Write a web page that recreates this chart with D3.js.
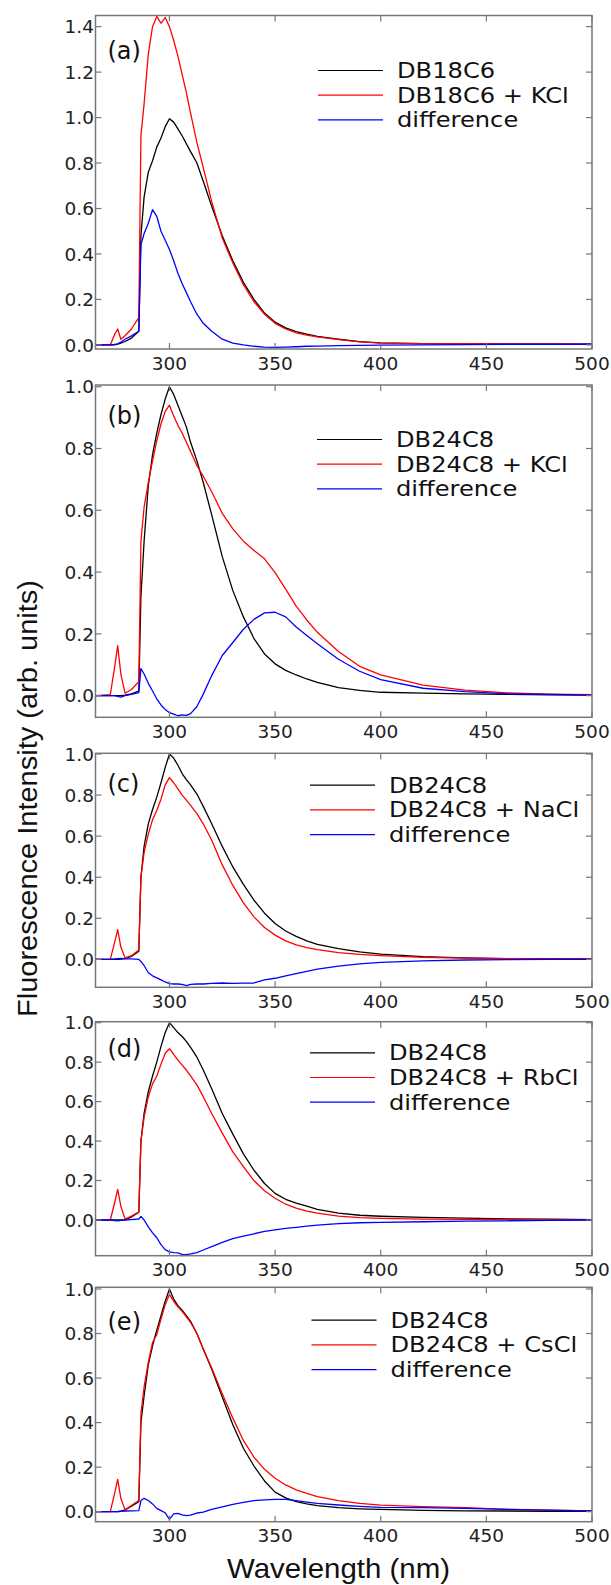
<!DOCTYPE html>
<html>
<head>
<meta charset="utf-8">
<script src="https://cdn.jsdelivr.net/npm/d3@7/dist/d3.min.js"></script>
<style>
  body { margin: 0; background: #fff; }
  svg { display: block; }
</style>
</head>
<body>
<div id="plot"></div>
<script>
const width = 611;
const height = 1585;

// wavelength grid shared by every trace (nm)
const wavelength = [265, 272, 274, 275.5, 277, 279, 282, 285.5, 286.5, 288, 290, 292, 294, 296, 298, 300, 302, 304, 306, 308, 310, 313, 316, 320, 325, 330, 335, 340, 345, 350, 355, 360, 365, 370, 380, 390, 400, 420, 440, 460, 480, 500];

const xTicks = [300, 350, 400, 450, 500];
const yTicksA = [0, 0.2, 0.4, 0.6, 0.8, 1.0, 1.2, 1.4];
const yTicks = [0, 0.2, 0.4, 0.6, 0.8, 1.0];

const panelLetters = ["(a)", "(b)", "(c)", "(d)", "(e)"];
const legendA = ["DB18C6", "DB18C6 + KCl", "difference"];
const legendB = ["DB24C8", "DB24C8 + KCl", "difference"];
const legendC = ["DB24C8", "DB24C8 + NaCl", "difference"];
const legendD = ["DB24C8", "DB24C8 + RbCl", "difference"];
const legendE = ["DB24C8", "DB24C8 + CsCl", "difference"];

// (a) DB18C6 / + KCl
const hostA = [0, 0, 0, 0.003, 0.008, 0.015, 0.03, 0.06, 0.48, 0.65, 0.76, 0.81, 0.87, 0.91, 0.96, 0.995, 0.98, 0.95, 0.92, 0.885, 0.85, 0.80, 0.72, 0.61, 0.48, 0.37, 0.275, 0.2, 0.14, 0.1, 0.075, 0.058, 0.047, 0.038, 0.025, 0.014, 0.009, 0.006, 0.005, 0.004, 0.004, 0.003];
const saltA = [0, 0, 0.045, 0.07, 0.025, 0.04, 0.07, 0.12, 0.92, 1.06, 1.28, 1.40, 1.445, 1.415, 1.44, 1.40, 1.34, 1.27, 1.19, 1.11, 1.02, 0.89, 0.78, 0.63, 0.47, 0.36, 0.265, 0.19, 0.135, 0.095, 0.07, 0.053, 0.043, 0.035, 0.023, 0.013, 0.008, 0.006, 0.005, 0.004, 0.004, 0.003];
const diffA = [0, 0, 0.002, 0.005, 0.012, 0.025, 0.04, 0.06, 0.44, 0.49, 0.535, 0.595, 0.565, 0.5, 0.46, 0.42, 0.37, 0.315, 0.27, 0.23, 0.19, 0.135, 0.095, 0.06, 0.025, 0.008, 0, -0.006, -0.01, -0.011, -0.01, -0.008, -0.006, -0.005, -0.003, -0.002, -0.001, 0, 0.001, 0.002, 0.002, 0.003];

// (b) DB24C8 / + KCl
const hostB = [0, 0, 0, 0, 0, 0.002, 0.006, 0.015, 0.32, 0.5, 0.68, 0.78, 0.85, 0.91, 0.96, 1.0, 0.975, 0.94, 0.905, 0.87, 0.82, 0.76, 0.69, 0.585, 0.45, 0.34, 0.255, 0.185, 0.135, 0.103, 0.082, 0.067, 0.054, 0.043, 0.026, 0.017, 0.011, 0.008, 0.006, 0.004, 0.003, 0.002];
const saltB = [0, 0.003, 0.09, 0.162, 0.07, 0.008, 0.02, 0.045, 0.5, 0.61, 0.69, 0.76, 0.825, 0.88, 0.92, 0.94, 0.905, 0.875, 0.85, 0.82, 0.79, 0.745, 0.71, 0.66, 0.59, 0.54, 0.5, 0.47, 0.443, 0.398, 0.345, 0.29, 0.245, 0.205, 0.143, 0.095, 0.067, 0.034, 0.018, 0.009, 0.005, 0.003];
const diffB = [0, 0, 0, -0.002, -0.005, 0, 0.004, 0.01, 0.088, 0.07, 0.04, 0.015, -0.01, -0.03, -0.045, -0.055, -0.06, -0.065, -0.062, -0.064, -0.058, -0.035, 0.005, 0.065, 0.13, 0.172, 0.215, 0.247, 0.268, 0.27, 0.255, 0.222, 0.195, 0.168, 0.118, 0.079, 0.052, 0.024, 0.013, 0.006, 0.004, 0.002];

// (c) DB24C8 / + NaCl
const hostC = [0, 0, 0, 0, 0.001, 0.004, 0.014, 0.04, 0.40, 0.55, 0.66, 0.73, 0.79, 0.86, 0.935, 1.0, 0.98, 0.945, 0.905, 0.875, 0.85, 0.805, 0.745, 0.66, 0.55, 0.45, 0.365, 0.288, 0.225, 0.175, 0.138, 0.112, 0.09, 0.073, 0.052, 0.036, 0.026, 0.013, 0.007, 0.004, 0.003, 0.002];
const saltC = [0, 0, 0.08, 0.145, 0.06, 0.007, 0.018, 0.045, 0.40, 0.52, 0.61, 0.68, 0.725, 0.78, 0.85, 0.885, 0.86, 0.83, 0.80, 0.775, 0.75, 0.71, 0.66, 0.58, 0.46, 0.36, 0.275, 0.207, 0.155, 0.118, 0.09, 0.071, 0.057, 0.047, 0.033, 0.024, 0.018, 0.01, 0.006, 0.004, 0.002, 0.001];
const diffC = [0, 0, 0.002, 0.004, 0.005, 0.002, 0.002, 0, -0.01, -0.03, -0.065, -0.08, -0.09, -0.1, -0.11, -0.118, -0.12, -0.12, -0.122, -0.128, -0.122, -0.12, -0.12, -0.117, -0.115, -0.117, -0.116, -0.115, -0.1, -0.092, -0.08, -0.069, -0.058, -0.047, -0.033, -0.022, -0.015, -0.007, -0.003, -0.001, 0, 0];

// (d) DB24C8 / + RbCl
const hostD = [0, 0, 0, 0, 0, 0.002, 0.015, 0.04, 0.40, 0.54, 0.65, 0.73, 0.80, 0.88, 0.95, 1.0, 0.975, 0.95, 0.93, 0.905, 0.875, 0.825, 0.76, 0.665, 0.54, 0.435, 0.335, 0.252, 0.185, 0.135, 0.105, 0.086, 0.07, 0.054, 0.035, 0.024, 0.019, 0.013, 0.009, 0.006, 0.004, 0.002];
const saltD = [0, 0, 0.085, 0.155, 0.07, 0.005, 0.02, 0.04, 0.40, 0.52, 0.625, 0.69, 0.73, 0.79, 0.845, 0.868, 0.84, 0.81, 0.785, 0.76, 0.73, 0.685, 0.625, 0.54, 0.44, 0.345, 0.27, 0.2, 0.148, 0.11, 0.08, 0.06, 0.045, 0.035, 0.02, 0.012, 0.008, 0.004, 0.003, 0.002, 0.001, 0.001];
const diffD = [0, 0, -0.003, -0.004, -0.002, 0, 0.002, 0.005, 0.018, 0, -0.035, -0.065, -0.09, -0.125, -0.15, -0.162, -0.165, -0.167, -0.174, -0.176, -0.172, -0.165, -0.152, -0.135, -0.113, -0.095, -0.082, -0.07, -0.058, -0.05, -0.043, -0.037, -0.031, -0.026, -0.018, -0.014, -0.012, -0.009, -0.006, -0.004, -0.002, 0];

// (e) DB24C8 / + CsCl
const hostE = [0, 0, 0, 0, 0.002, 0.008, 0.025, 0.045, 0.40, 0.52, 0.66, 0.745, 0.815, 0.88, 0.945, 1.0, 0.955, 0.925, 0.905, 0.88, 0.855, 0.80, 0.73, 0.64, 0.515, 0.39, 0.285, 0.205, 0.138, 0.088, 0.062, 0.045, 0.035, 0.027, 0.018, 0.013, 0.01, 0.006, 0.004, 0.003, 0.002, 0.002];
const saltE = [0, 0, 0.08, 0.145, 0.06, 0.008, 0.028, 0.05, 0.44, 0.56, 0.67, 0.76, 0.795, 0.865, 0.93, 0.975, 0.945, 0.92, 0.9, 0.875, 0.85, 0.80, 0.73, 0.645, 0.53, 0.42, 0.32, 0.245, 0.19, 0.15, 0.12, 0.098, 0.082, 0.068, 0.05, 0.037, 0.029, 0.023, 0.018, 0.01, 0.007, 0.004];
const diffE = [0, 0, 0, 0, 0.002, 0.003, 0.004, 0.005, 0.05, 0.06, 0.05, 0.035, 0.015, 0.005, -0.005, -0.035, -0.01, -0.008, -0.014, -0.018, -0.015, -0.006, -0.002, 0.01, 0.022, 0.033, 0.042, 0.05, 0.053, 0.055, 0.055, 0.05, 0.043, 0.037, 0.03, 0.024, 0.019, 0.018, 0.015, 0.01, 0.007, 0.004];

// layout of the five stacked panels (pixels)
const plotLeft = 95.5, plotRight = 592;
const panelTop = [15.5, 385, 753.3, 1021.7, 1287.3];
const panelBottom = [349, 717.3, 987.3, 1255.7, 1521.7];
const yDomains = [[-0.018, 1.449], [-0.07, 1.0055], [-0.136, 1.0034], [-0.181, 1.005], [-0.045, 1.0076]];
const legendX = [318, 317, 310, 310, 311.5];
const legendY = [70.5, 439.5, 785.2, 1052.8, 1320.2];
const letterY = [58.5, 423.5, 791.5, 1056.8, 1329.8];
const legendStep = 24.7;

const colors = ["#000000", "#ff0000", "#0000ff"];
const frameColor = "#777";

const panels = [
  { series: [hostA, saltA, diffA], legend: legendA, ticks: yTicksA },
  { series: [hostB, saltB, diffB], legend: legendB, ticks: yTicks },
  { series: [hostC, saltC, diffC], legend: legendC, ticks: yTicks },
  { series: [hostD, saltD, diffD], legend: legendD, ticks: yTicks },
  { series: [hostE, saltE, diffE], legend: legendE, ticks: yTicks }
];

const svg = d3.select("div#plot")
  .append("svg")
  .attr("width", width)
  .attr("height", height);

const x = d3.scaleLinear()
  .domain([265, 500])
  .range([plotLeft, plotRight]);

panels.forEach((p, i) => {
  const top = panelTop[i], bottom = panelBottom[i];
  const y = d3.scaleLinear()
    .domain(yDomains[i])
    .range([bottom, top]);

  const g = svg.append("g");

  svg.append("clipPath")
    .attr("id", "clip" + i)
    .append("rect")
    .attr("x", plotLeft)
    .attr("y", top)
    .attr("width", plotRight - plotLeft)
    .attr("height", bottom - top);

  const line = d3.line()
    .x((d, j) => x(wavelength[j]))
    .y(d => y(d));

  g.append("g")
    .attr("clip-path", `url(#clip${i})`)
    .selectAll("path")
    .data(p.series)
    .enter().append("path")
    .attr("d", line)
    .attr("fill", "none")
    .attr("stroke", (d, k) => colors[k])
    .attr("stroke-width", 1.3)
    .attr("stroke-linejoin", "round");

  // frame
  g.append("rect")
    .attr("x", plotLeft)
    .attr("y", top)
    .attr("width", plotRight - plotLeft)
    .attr("height", bottom - top)
    .attr("fill", "none")
    .attr("stroke", frameColor)
    .attr("stroke-width", 1.5);

  // inward ticks, all four sides
  const tickLen = 6;
  xTicks.forEach(t => {
    g.append("line")
      .attr("x1", x(t)).attr("x2", x(t))
      .attr("y1", bottom).attr("y2", bottom - tickLen)
      .attr("stroke", frameColor).attr("stroke-width", 1.2);
    g.append("line")
      .attr("x1", x(t)).attr("x2", x(t))
      .attr("y1", top).attr("y2", top + tickLen)
      .attr("stroke", frameColor).attr("stroke-width", 1.2);
  });
  p.ticks.forEach(t => {
    g.append("line")
      .attr("x1", plotLeft).attr("x2", plotLeft + tickLen)
      .attr("y1", y(t)).attr("y2", y(t))
      .attr("stroke", frameColor).attr("stroke-width", 1.2);
    g.append("line")
      .attr("x1", plotRight).attr("x2", plotRight - tickLen)
      .attr("y1", y(t)).attr("y2", y(t))
      .attr("stroke", frameColor).attr("stroke-width", 1.2);
  });

  g.selectAll(".xlab")
    .data(xTicks)
    .enter().append("text")
    .attr("x", d => x(d))
    .attr("y", bottom + 20.5)
    .attr("text-anchor", "middle")
    .style("font-family", "DejaVu Sans")
    .style("font-size", "18.5px")
    .style("fill", "#222")
    .text(d => d);

  g.selectAll(".ylab")
    .data(p.ticks)
    .enter().append("text")
    .attr("x", plotLeft - 1.5)
    .attr("y", d => y(d) + 6.7)
    .attr("text-anchor", "end")
    .style("font-family", "DejaVu Sans")
    .style("font-size", "18.5px")
    .style("fill", "#222")
    .text(d => d3.format(".1f")(d));

  g.append("text")
    .attr("x", 107.5)
    .attr("y", letterY[i])
    .style("font-family", "DejaVu Sans")
    .style("font-size", "24px")
    .style("fill", "#111")
    .text(panelLetters[i]);

  // legend
  const legend = g.selectAll(".legend")
    .data(p.legend)
    .enter().append("g")
    .attr("transform", (d, k) => `translate(${legendX[i]}, ${legendY[i] + k * legendStep})`);

  legend.append("line")
    .attr("x1", 0).attr("x2", 65)
    .attr("y1", 0).attr("y2", 0)
    .attr("stroke", (d, k) => colors[k])
    .attr("stroke-width", 1.2);

  legend.append("text")
    .attr("x", 79)
    .attr("y", 7.3)
    .style("font-family", "DejaVu Sans")
    .style("font-size", "21.2px")
    .style("fill", "#111")
    .text(d => d)
    .each(function () {
      // the original face is a little wider than DejaVu
      const w = this.getComputedTextLength();
      d3.select(this)
        .attr("textLength", w * 1.14)
        .attr("lengthAdjust", "spacingAndGlyphs");
    });
});

// axis titles
svg.append("text")
  .attr("x", 338.5)
  .attr("y", 1578)
  .attr("text-anchor", "middle")
  .attr("textLength", 223)
  .attr("lengthAdjust", "spacingAndGlyphs")
  .style("font-family", "Liberation Sans, Arial, sans-serif")
  .style("font-size", "27.5px")
  .style("fill", "#111")
  .text("Wavelength (nm)");

svg.append("text")
  .attr("transform", "translate(36.5, 798.5) rotate(-90)")
  .attr("text-anchor", "middle")
  .attr("textLength", 437)
  .attr("lengthAdjust", "spacingAndGlyphs")
  .style("font-family", "Liberation Sans, Arial, sans-serif")
  .style("font-size", "27px")
  .style("fill", "#111")
  .text("Fluorescence Intensity (arb. units)");
</script>
</body>
</html>
